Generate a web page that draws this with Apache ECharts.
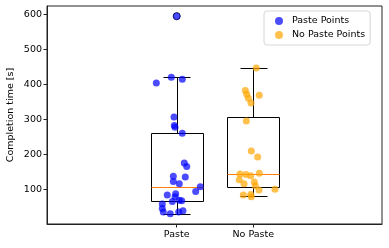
<!DOCTYPE html>
<html>
<head>
<meta charset="utf-8">
<script src="https://cdn.jsdelivr.net/npm/echarts@6/dist/echarts.min.js"></script>
<style>html,body{margin:0;padding:0;background:#fff}#c{width:389px;height:248px}</style>
</head>
<body>
<div id="c"></div>
<script>
const categories = ['Paste', 'No Paste'];
const positions = [1, 2];
const whiskerLow = [29, 81];
const q1 = [66, 106];
const median = [106, 143];
const q3 = [260, 306];
const whiskerHigh = [420, 446];
const fliers = [[1, 594]];
const yTicks = [100, 200, 300, 400, 500, 600];

const pastePoints = [
  [1.000, 594], [0.734, 403], [0.930, 420], [1.073, 414], [0.965, 306],
  [0.969, 282], [0.978, 277], [1.073, 260], [1.099, 175], [1.131, 165],
  [0.956, 137], [1.112, 135], [0.956, 122], [1.034, 116], [1.308, 107],
  [1.248, 94], [0.987, 87], [0.877, 84], [0.978, 79], [1.034, 69],
  [1.065, 67], [0.943, 65], [0.812, 58], [0.812, 45], [0.825, 35],
  [0.916, 30], [1.026, 35], [1.082, 39]
];
const noPastePoints = [
  [2.039, 446], [1.896, 382], [1.914, 371], [2.078, 368], [1.935, 360],
  [1.970, 346], [1.909, 295], [1.974, 209], [2.057, 192], [1.826, 144],
  [1.905, 142], [1.966, 139], [2.078, 146], [1.817, 127], [1.879, 116],
  [2.013, 121], [2.026, 110], [2.074, 98], [2.283, 100], [1.869, 84],
  [1.966, 85], [1.974, 79]
];

const boxData = positions.map((p, i) => [p, whiskerLow[i], q1[i], median[i], q3[i], whiskerHigh[i]]);
const BOX_HALF = 0.34, CAP_HALF = 0.174;
const font = 'DejaVu Sans';
const FS = 9.5;

function renderBox(params, api) {
  const p = api.value(0);
  const lo = api.value(1), a = api.value(2), m = api.value(3), b = api.value(4), hi = api.value(5);
  const s = v => Math.round(v) + 0.5;
  const c = (x, y) => { const q = api.coord([x, y]); return [s(q[0]), s(q[1])]; };
  const L = c(p - BOX_HALF, a), R = c(p + BOX_HALF, b);
  const black = { stroke: '#000', lineWidth: 1, fill: null };
  const ln = (p1, p2, style) => ({ type: 'line', shape: { x1: p1[0], y1: p1[1], x2: p2[0], y2: p2[1] }, style: style || black });
  return {
    type: 'group',
    children: [
      { type: 'rect', shape: { x: L[0], y: R[1], width: R[0] - L[0], height: L[1] - R[1] }, style: black },
      ln(c(p, a), c(p, lo)),
      ln(c(p, b), c(p, hi)),
      ln(c(p - CAP_HALF, lo), c(p + CAP_HALF, lo)),
      ln(c(p - CAP_HALF, hi), c(p + CAP_HALF, hi)),
      ln(c(p - BOX_HALF, m), c(p + BOX_HALF, m), { stroke: '#ff7f0e', lineWidth: 1 })
    ]
  };
}

const chart = echarts.init(document.getElementById('c'), null, { renderer: 'canvas' });
chart.setOption({
  animation: false,
  backgroundColor: '#fff',
  textStyle: { fontFamily: font },
  grid: { left: 47, right: 7, top: 6, bottom: 24, show: true, borderColor: '#222', borderWidth: 1,
    containLabel: false, outerBoundsMode: 'none' },
  legend: {
    data: ['Paste Points', 'No Paste Points'],
    orient: 'vertical',
    left: 264, top: 11,
    icon: 'circle',
    itemWidth: 8, itemHeight: 8, itemGap: 4,
    padding: [5, 5, 5, 11],
    backgroundColor: '#fff',
    borderColor: '#d6d6d6', borderWidth: 1, borderRadius: 3,
    textStyle: { fontFamily: font, fontSize: FS, color: '#000', padding: [0, 0, 0, 4] }
  },
  xAxis: {
    type: 'value', min: -0.693, max: 3.68,
    axisLine: { show: true, onZero: false, lineStyle: { color: '#222' } },
    axisTick: { show: true, length: 3.5, lineStyle: { color: '#222' }, customValues: positions },
    axisLabel: { customValues: positions, color: '#000', fontSize: FS, fontFamily: font, margin: 6,
      formatter: v => categories[positions.indexOf(Math.round(v))] || '' },
    splitLine: { show: false }
  },
  yAxis: {
    type: 'value', min: 1, max: 623,
    name: 'Completion time [s]', nameLocation: 'middle', nameGap: 31, nameMoveOverlap: false,
    nameTextStyle: { fontFamily: font, fontSize: FS, color: '#000' },
    axisLine: { show: true, onZero: false, lineStyle: { color: '#222' } },
    axisTick: { show: true, length: 3.5, lineStyle: { color: '#222' }, customValues: yTicks },
    axisLabel: { customValues: yTicks, color: '#000', fontSize: FS, fontFamily: font, margin: 5 },
    splitLine: { show: false }
  },
  series: [
    { type: 'custom', name: 'box', renderItem: renderBox, data: boxData, z: 2,
      encode: { x: 0, y: [1, 2, 3, 4, 5] }, silent: true },
    { type: 'scatter', name: 'fliers', data: fliers, symbol: 'circle', symbolSize: 7, z: 3,
      itemStyle: { color: 'rgba(0,0,0,0)', borderColor: '#000', borderWidth: 1, opacity: 1 } },
    { type: 'scatter', name: 'Paste Points', data: pastePoints, symbolSize: 7, z: 4,
      itemStyle: { color: 'rgba(0,0,255,0.7)', opacity: 1 } },
    { type: 'scatter', name: 'No Paste Points', data: noPastePoints, symbolSize: 7, z: 4,
      itemStyle: { color: 'rgba(255,165,0,0.7)', opacity: 1 } }
  ]
});
</script>
</body>
</html>
